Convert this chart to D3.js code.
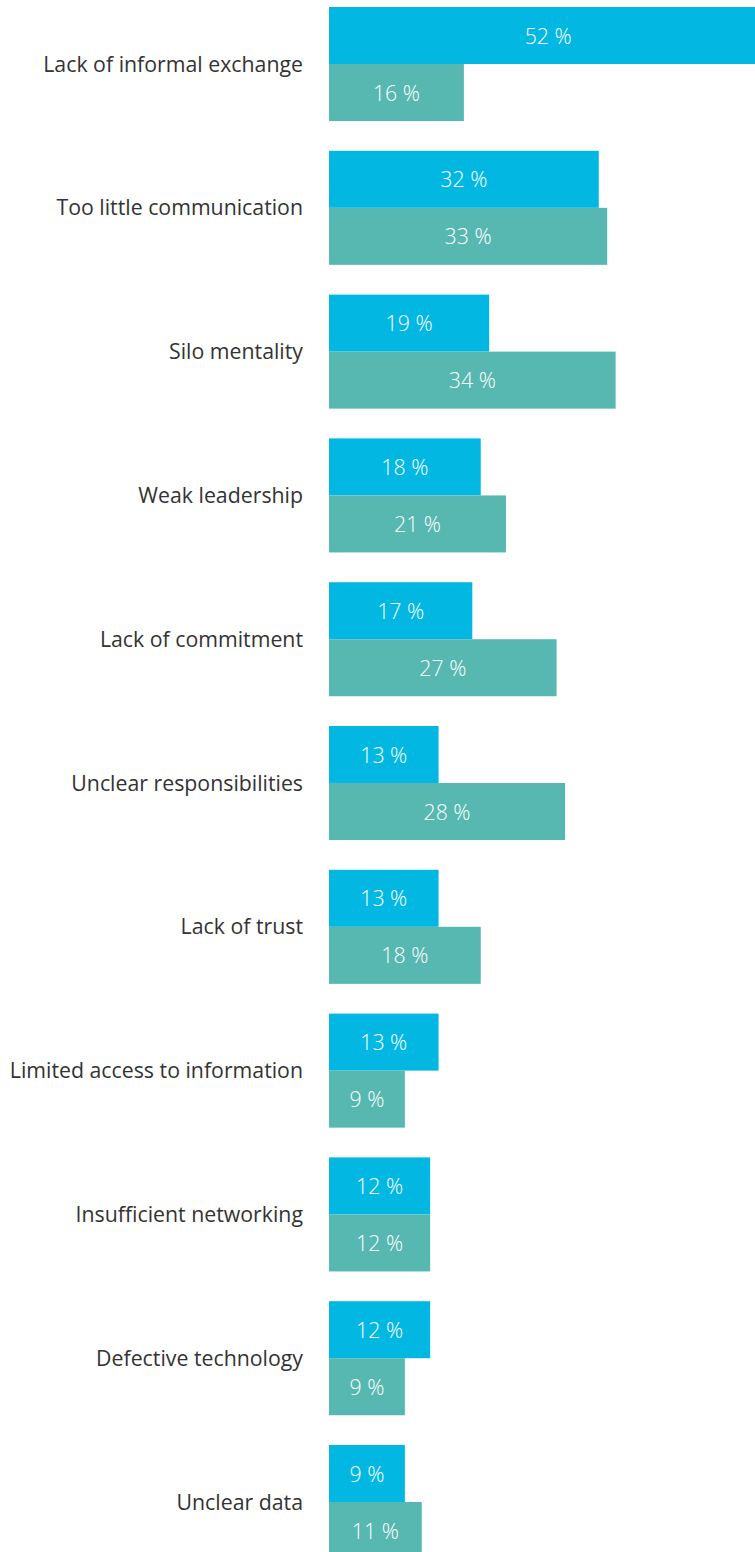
<!DOCTYPE html>
<html>
<head>
<meta charset="UTF-8">
<title></title>
<style type="text/css">
	body { margin: 0; background: #fff; }
	.chart { width: 755px; height: 1552px; overflow: hidden; }
	text { font-family: "Open Sans", sans-serif; }
</style>
</head>
<body>
<div class="chart"></div>
<script src="https://cdn.jsdelivr.net/npm/d3@7/dist/d3.min.js" type="text/javascript" charset="utf-8"></script>
<script type="text/javascript">
	var categories = ["Lack of informal exchange", "Too little communication", "Silo mentality",
		"Weak leadership", "Lack of commitment", "Unclear responsibilities", "Lack of trust",
		"Limited access to information", "Insufficient networking", "Defective technology", "Unclear data"];
	var seriesA = [52, 32, 19, 18, 17, 13, 13, 13, 12, 12, 9];   // blue
	var seriesB = [16, 33, 34, 21, 27, 28, 18, 9, 12, 9, 11];    // teal
	var seriesKeys = ["a", "b"];
	var colors = { a: "#02b8e3", b: "#56b8b1" };

	var width = 755, height = 1552;
	var step = 143.8, left = 329;

	var svg = d3.select(".chart").append("svg")
		.attr("width", width)
		.attr("height", height);

	var x = d3.scaleLinear().domain([0, 100]).range([left, left + 843]);

	var p = 0.207;
	var y = d3.scaleBand()
		.domain(categories)
		.range([7 - p / 2 * step, 7 - p / 2 * step + categories.length * step])
		.paddingInner(p)
		.paddingOuter(p / 2);

	var ySub = d3.scaleBand().domain(seriesKeys).range([0, y.bandwidth()]);

	var rows = categories.map(function(c, i) {
		return { cat: c, vals: [{ k: "a", v: seriesA[i] }, { k: "b", v: seriesB[i] }] };
	});

	var g = svg.selectAll("g.row")
		.data(rows)
		.enter()
		.append("g")
		.attr("class", "row")
		.attr("transform", function(d) { return "translate(0," + y(d.cat) + ")"; });

	g.selectAll("rect")
		.data(function(d) { return d.vals; })
		.enter()
		.append("rect")
		.attr("x", x(0))
		.attr("y", function(d) { return ySub(d.k); })
		.attr("width", function(d) { return x(d.v) - x(0); })
		.attr("height", ySub.bandwidth())
		.attr("fill", function(d) { return colors[d.k]; });

	// value labels in the middle of each bar
	g.selectAll("text.val")
		.data(function(d) { return d.vals; })
		.enter()
		.append("text")
		.attr("class", "val")
		.attr("x", function(d) { return (x(0) + x(d.v)) / 2; })
		.attr("y", function(d) { return ySub(d.k) + ySub.bandwidth() / 2; })
		.attr("dy", "0.38em")
		.attr("text-anchor", "middle")
		.attr("fill", "#fff")
		.style("font-size", "21.3px")
		.style("font-weight", "300")
		.text(function(d) { return d.v + " %"; });

	g.append("text")
		.attr("x", left - 26)
		.attr("y", y.bandwidth() / 2)
		.attr("dy", "0.36em")
		.attr("text-anchor", "end")
		.attr("fill", "#333")
		.style("font-size", "21.3px")
		.text(function(d) { return d.cat; });
</script>
</body>
</html>
